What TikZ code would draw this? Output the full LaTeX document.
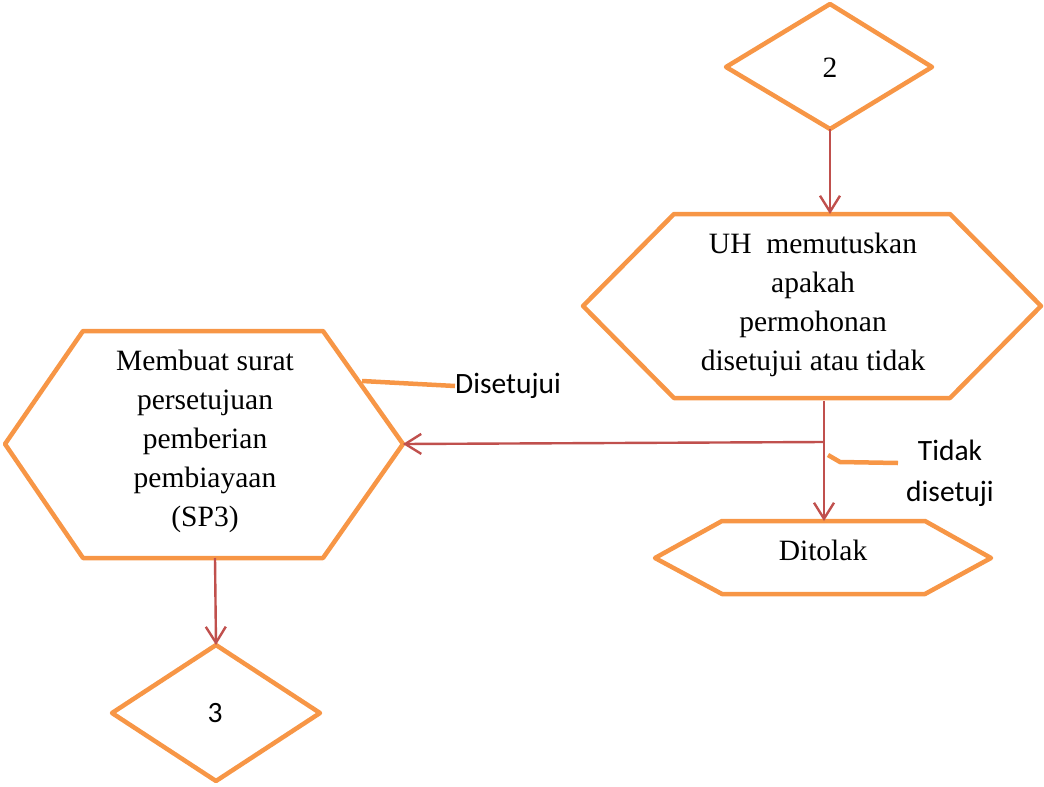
\documentclass[tikz,border=0pt]{standalone}
\usepackage{fontspec}
\setmainfont{Liberation Serif}
\newfontfamily\calibrifont{Carlito}
\usetikzlibrary{arrows.meta}
\definecolor{shapeorange}{HTML}{F79646}
\definecolor{arrowred}{HTML}{C0504D}
\begin{document}
\begin{tikzpicture}[x=1pt,y=-1pt,
  outline/.style={draw=shapeorange,line width=4.5pt,line join=round},
  flow/.style={draw=arrowred,line width=2.4pt,-{Straight Barb[length=16pt,width=20pt]}},
  callout/.style={draw=shapeorange,line width=4.5pt},
  serif/.style={font=\fontsize{29.5}{39}\selectfont,align=center,inner sep=0pt},
  sans/.style={font=\calibrifont\fontsize{29.5}{41}\selectfont,align=center,inner sep=0pt}]
\useasboundingbox (0,0) rectangle (1044,787);

% diamond 2
\coordinate (d2t) at (830,4);
\coordinate (d2r) at (932,67);
\coordinate (d2b) at (830,129);
\coordinate (d2l) at (726,67);
\draw[outline] (d2t)--(d2r)--(d2b)--(d2l)--cycle;
\node[serif] (d2) at (830,68) {2};

% decision hexagon
\coordinate (uhTL) at (674,214);
\coordinate (uhTR) at (950,214);
\coordinate (uhR) at (1041,306);
\coordinate (uhBR) at (950,398);
\coordinate (uhBL) at (674,398);
\coordinate (uhL) at (583,306);
\coordinate (uhT) at (830,214);
\coordinate (uhB) at (824,401);
\draw[outline] (uhTL)--(uhTR)--(uhR)--(uhBR)--(uhBL)--(uhL)--cycle;
\node[serif] (uh) at (813,305) {UH~~memutuskan\\apakah\\permohonan\\disetujui atau tidak};

% SP3 hexagon
\coordinate (spTL) at (83,331);
\coordinate (spTR) at (323,331);
\coordinate (spR) at (403,444);
\coordinate (spBR) at (323,558);
\coordinate (spBL) at (83,558);
\coordinate (spL) at (5,444);
\coordinate (spB) at (215,558);
\draw[outline] (spTL)--(spTR)--(spR)--(spBR)--(spBL)--(spL)--cycle;
\node[serif] (sp) at (205,441) {Membuat surat\\persetujuan\\pemberian\\pembiayaan\\(SP3)};

% Ditolak hexagon
\coordinate (dtTL) at (722,521);
\coordinate (dtTR) at (925,521);
\coordinate (dtR) at (991,558);
\coordinate (dtBR) at (925,594);
\coordinate (dtBL) at (722,594);
\coordinate (dtL) at (655,558);
\coordinate (dtT) at (824,521);
\draw[outline] (dtTL)--(dtTR)--(dtR)--(dtBR)--(dtBL)--(dtL)--cycle;
\node[serif] (dt) at (823,550) {Ditolak};

% diamond 3
\coordinate (d3t) at (216,645);
\coordinate (d3r) at (320,713);
\coordinate (d3b) at (216,781);
\coordinate (d3l) at (112,713);
\draw[outline] (d3t)--(d3r)--(d3b)--(d3l)--cycle;
\node[sans] (d3) at (215,713) {3};

% connectors
\coordinate (j1) at (824,442);
\draw[flow] (d2b) -- (uhT);
\draw[flow] (uhB) -- (dtT);
\draw[flow] (j1) -- (spR);
\draw[flow] (spB) -- (d3t);

% labels with callouts
\node[sans] (yes) at (508,386) {Disetujui};
\coordinate (yesA) at (362,381);
\draw[callout] (yesA) -- (yes.west);
\node[sans] (no) at (950,473) {Tidak\\disetuji};
\coordinate (noA) at (828,455);
\coordinate (noB) at (840,462);
\draw[callout] (noA) -- (noB) -- (898,463);
\end{tikzpicture}
\end{document}
